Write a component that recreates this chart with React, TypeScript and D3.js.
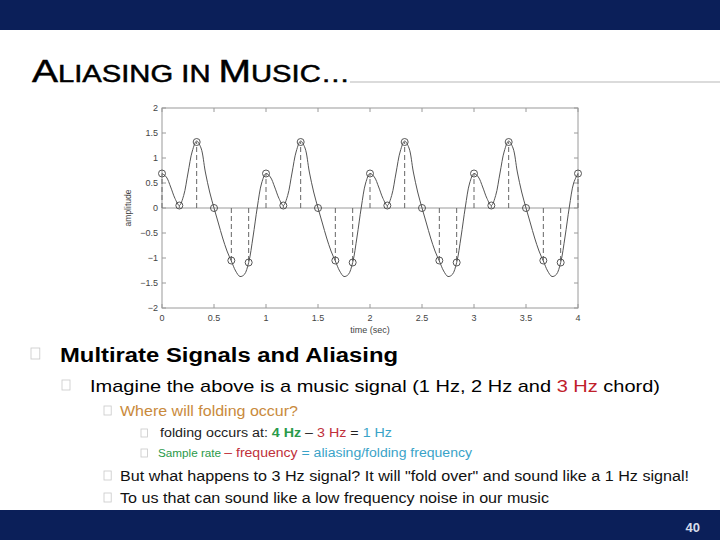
import React from 'react';
import * as d3 from 'd3';

const X_TICKS = [0, 0.5, 1, 1.5, 2, 2.5, 3, 3.5, 4];
const Y_TICKS = [-2, -1.5, -1, -0.5, 0, 0.5, 1, 1.5, 2];
const X_DOMAIN = [0, 4];
const Y_DOMAIN = [-2, 2];

// continuous signal, one value every 1/24 s from 0 to 4 s
const CURVE_STEP = 1 / 24;
const CURVE_VALUES = [
  0.69, 0.62, 0.42, 0.19, 0.05, 0.25, 0.70, 1.14, 1.34, 1.20, 0.72, 0.32,
  0.00, -0.30, -0.60, -0.86, -1.06, -1.26, -1.37, -1.33, -1.09, -0.58, 0.02, 0.50,
  0.69, 0.62, 0.42, 0.19, 0.05, 0.25, 0.70, 1.14, 1.34, 1.20, 0.72, 0.32,
  0.00, -0.30, -0.60, -0.86, -1.06, -1.26, -1.37, -1.33, -1.09, -0.58, 0.02, 0.50,
  0.69, 0.62, 0.42, 0.19, 0.05, 0.25, 0.70, 1.14, 1.34, 1.20, 0.72, 0.32,
  0.00, -0.30, -0.60, -0.86, -1.06, -1.26, -1.37, -1.33, -1.09, -0.58, 0.02, 0.50,
  0.69, 0.62, 0.42, 0.19, 0.05, 0.25, 0.70, 1.14, 1.34, 1.20, 0.72, 0.32,
  0.00, -0.30, -0.60, -0.86, -1.06, -1.26, -1.37, -1.33, -1.09, -0.58, 0.02, 0.50,
  0.69,
];

// samples at 6 Hz
const SAMPLE_STEP = 1 / 6;
const SAMPLE_VALUES = [
  0.69, 0.05, 1.32, 0.0, -1.05, -1.09,
  0.69, 0.05, 1.32, 0.0, -1.05, -1.09,
  0.69, 0.05, 1.32, 0.0, -1.05, -1.09,
  0.69, 0.05, 1.32, 0.0, -1.05, -1.09,
  0.69,
];

const X_LABEL = 'time (sec)';
const Y_LABEL = 'amplitude';
const TITLE_PARTS = [
  { t: 'A', big: true },
  { t: 'LIASING IN ', big: false },
  { t: 'M', big: true },
  { t: 'USIC…', big: false },
];
const PAGE_NUMBER = '40';

const NAVY = '#0b1f59';
const FONT = 'Liberation Sans, Arial, sans-serif';

const fmt = (v: number) => (v < 0 ? '\u2212' + String(-v) : String(v));

function Box({ x, y, s }: { x: number; y: number; s: number }) {
  return <rect x={x} y={y} width={s * 0.8} height={s} fill="none" stroke="#c8c8c8" strokeWidth={0.8} />;
}

export default function App() {
  const x = d3.scaleLinear().domain(X_DOMAIN).range([162, 578]);
  const y = d3.scaleLinear().domain(Y_DOMAIN).range([308, 108]);
  const line = d3
    .line<number>()
    .x((_, i) => x(i * CURVE_STEP))
    .y((d) => y(d))
    .curve(d3.curveCatmullRom);
  const axisColor = '#9a9a9a';
  const [x0, x1] = x.range();
  const [y0, y1] = y.range();

  return (
    <div style={{ position: 'absolute', left: 0, top: 0 }}>
      <svg width={720} height={540} style={{ display: 'block', background: '#fff' }} fontFamily={FONT}>
        {/* top band */}
        <rect x={0} y={0} width={720} height={30} fill={NAVY} />
        {/* title */}
        <line x1={350} x2={720} y1={82} y2={82} stroke="#cfcfcf" strokeWidth={1.5} />
        <text
          x={32}
          y={82}
          fill="#000"
          stroke="#000"
          strokeWidth={0.5}
          textLength={318}
          lengthAdjust="spacingAndGlyphs"
        >
          {TITLE_PARTS.map((p, i) => (
            <tspan key={i} fontSize={p.big ? 32 : 24}>
              {p.t}
            </tspan>
          ))}
        </text>

        {/* plot */}
        <g>
          <rect x={x0} y={y1} width={x1 - x0} height={y0 - y1} fill="#fff" stroke={axisColor} strokeWidth={1} />
          <line x1={x0} x2={x1} y1={y(0)} y2={y(0)} stroke={axisColor} strokeWidth={1} />
          {X_TICKS.map((t) => (
            <g key={'xt' + t}>
              <line x1={x(t)} x2={x(t)} y1={y0} y2={y0 - 4} stroke={axisColor} />
              <line x1={x(t)} x2={x(t)} y1={y1} y2={y1 + 4} stroke={axisColor} />
              <text x={x(t)} y={y0 + 13} fontSize={9} textAnchor="middle" fill="#444">
                {fmt(t)}
              </text>
            </g>
          ))}
          {Y_TICKS.map((t) => (
            <g key={'yt' + t}>
              <line x1={x0} x2={x0 + 4} y1={y(t)} y2={y(t)} stroke={axisColor} />
              <line x1={x1} x2={x1 - 4} y1={y(t)} y2={y(t)} stroke={axisColor} />
              <text x={x0 - 4} y={y(t)} dy="0.35em" fontSize={9} textAnchor="end" fill="#444">
                {fmt(t)}
              </text>
            </g>
          ))}
          <text x={(x0 + x1) / 2} y={y0 + 25} fontSize={9} textAnchor="middle" fill="#444">
            {X_LABEL}
          </text>
          <text
            transform={`translate(${x0 - 31},${(y0 + y1) / 2}) rotate(-90)`}
            fontSize={8.5}
            textAnchor="middle"
            fill="#444"
          >
            {Y_LABEL}
          </text>
          {SAMPLE_VALUES.map((v, i) => (
            <line
              key={'st' + i}
              x1={x(i * SAMPLE_STEP)}
              x2={x(i * SAMPLE_STEP)}
              y1={y(0)}
              y2={y(v)}
              stroke="#666"
              strokeWidth={1}
              strokeDasharray="5,3"
            />
          ))}
          <path d={line(CURVE_VALUES) || ''} fill="none" stroke="#555" strokeWidth={1} />
          {SAMPLE_VALUES.map((v, i) => (
            <circle key={'c' + i} cx={x(i * SAMPLE_STEP)} cy={y(v)} r={3.5} fill="none" stroke="#444" strokeWidth={0.9} />
          ))}
        </g>

        {/* bullets */}
        <Box x={31} y={348} s={11} />
        <text x={60} y={362} fontSize={20} fontWeight="bold" fill="#000" textLength={338} lengthAdjust="spacingAndGlyphs">
          Multirate Signals and Aliasing
        </text>

        <Box x={62} y={380} s={10} />
        <text x={90} y={392} fontSize={17} fill="#000" textLength={570} lengthAdjust="spacingAndGlyphs">
          Imagine the above is a music signal (1 Hz, 2 Hz and <tspan fill="#c0202a">3 Hz</tspan> chord)
        </text>

        <Box x={104} y={406} s={9} />
        <text x={120} y={416} fontSize={14} fill="#c98a3c" textLength={178} lengthAdjust="spacingAndGlyphs">
          Where will folding occur?
        </text>

        <Box x={141} y={429} s={8} />
        <text x={160} y={437} fontSize={12} fill="#222" textLength={232} lengthAdjust="spacingAndGlyphs">
          folding occurs at: <tspan fill="#2a9a4a" fontWeight="bold">4 Hz</tspan>
          <tspan fill="#222"> – </tspan>
          <tspan fill="#c0303a">3 Hz</tspan>
          <tspan fill="#222">{'  = '}</tspan>
          <tspan fill="#3aa3c8">1 Hz</tspan>
        </text>

        <Box x={141} y={449} s={8} />
        <text x={158} y={457} fontSize={12} fill="#222" textLength={314} lengthAdjust="spacingAndGlyphs">
          <tspan fill="#2a9a4a" fontSize={10}>Sample rate </tspan>
          <tspan fill="#c0303a">– frequency </tspan>
          <tspan fill="#3aa3c8">= aliasing/folding frequency</tspan>
        </text>

        <Box x={104} y={471} s={9} />
        <text x={120} y={481} fontSize={14} fill="#111" textLength={569} lengthAdjust="spacingAndGlyphs">
          But what happens to 3 Hz signal?  It will "fold over" and sound like a 1 Hz signal!
        </text>

        <Box x={104} y={493} s={9} />
        <text x={120} y={503} fontSize={14} fill="#111" textLength={429} lengthAdjust="spacingAndGlyphs">
          To us that can sound like a low frequency noise in our music
        </text>

        {/* bottom band */}
        <rect x={0} y={510} width={720} height={30} fill={NAVY} />
        <text x={700} y={532} fontSize={13} fontWeight="bold" fill="#d6dcea" textAnchor="end">
          {PAGE_NUMBER}
        </text>
      </svg>
    </div>
  );
}
